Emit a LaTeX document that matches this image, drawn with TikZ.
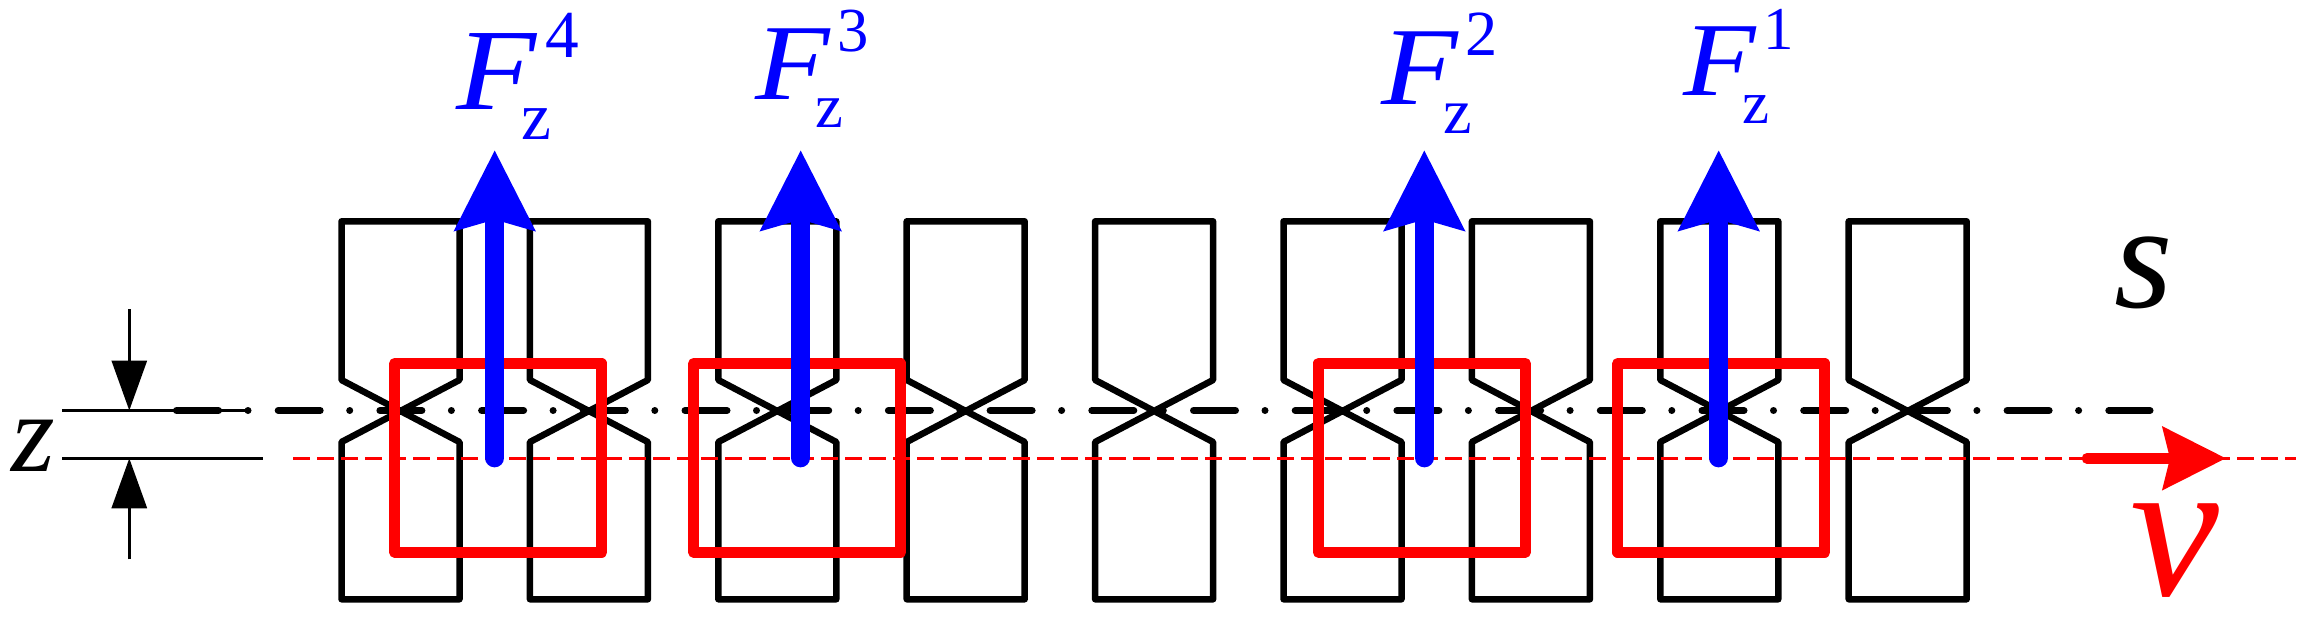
\documentclass[tikz,border=0pt]{standalone}
\usepackage{fontspec}
\setmainfont{Liberation Serif}
\usetikzlibrary{arrows.meta}
\definecolor{forceblue}{RGB}{0,0,255}
\definecolor{movered}{RGB}{255,0,0}
\tikzstyle{tooth} = [draw, line width=6.5pt, line join=round]
\tikzstyle{axis} = [draw, line width=7pt, line cap=round, dash pattern=on 42pt off 29.5pt on 0pt off 30.2pt]
\tikzstyle{dimline} = [draw, line width=3.2pt]
\tikzstyle{dimarrow} = [draw, line width=3.2pt, -{Triangle[length=50pt, width=35pt]}]
\tikzstyle{track} = [draw=movered, line width=3pt, dash pattern=on 17pt off 7pt]
\tikzstyle{coil} = [rectangle, draw=movered, line width=10.7pt, line join=round, inner sep=0pt, minimum width=207pt, minimum height=189pt]
\tikzstyle{force} = [draw=forceblue, line width=18.7pt, line cap=round, -{Stealth[length=79.5pt, width=78pt, inset=10pt]}]
\tikzstyle{speed} = [draw=movered, line width=10.7pt, line cap=round, -{Stealth[length=63pt, width=62pt, inset=7pt]}]
\tikzstyle{label} = [inner sep=0pt, anchor=base west]
\newcommand{\fzlabel}[2]{\fontsize{#1pt}{#1pt}\selectfont
  \rlap{\kern.56em\raisebox{-.26em}{\fontsize{.58em}{.58em}\selectfont z}}%
  \rlap{\kern.76em\raisebox{.44em}{\fontsize{.58em}{.58em}\selectfont #2}}%
  \scalebox{1.13}[1]{\textit{F}}}

\begin{document}
\begin{tikzpicture}[x=1pt, y=-1pt]
	\useasboundingbox (0,0) rectangle (2311,616);
	% teeth
	\foreach \i in {0,...,8}
		\draw [tooth, xshift={\i*188.4pt}] (341.5,380) -- (341.5,221.3) -- (459.5,221.3) -- (459.5,380) -- (341.5,442) -- (341.5,599.3) -- (459.5,599.3) -- (459.5,442) -- cycle;

	\coordinate (axisa) at (176.5,410.5);
	\coordinate (axisb) at (2150,410.5);
	\coordinate (dima) at (62,410.5);
	\coordinate (dimb) at (248,410.5);
	\coordinate (dimc) at (62,458.3);
	\coordinate (dimd) at (262.7,458.3);
	\coordinate (tracka) at (293,458.3);
	\coordinate (trackb) at (2296,458.3);
	\path [axis] (axisa) -- (axisb);
	\path [dimline] (dima) -- (dimb);
	\path [dimline] (dimc) -- (dimd);
	\path [track] (tracka) -- (trackb);

	% gap arrows
	\coordinate (gaptop) at (129.3,309.3);
	\coordinate (gapupper) at (129.3,410.5);
	\coordinate (gapbottom) at (129.3,559.3);
	\coordinate (gaplower) at (129.3,458.3);
	\path [dimarrow] (gaptop) -- (gapupper);
	\path [dimarrow] (gapbottom) -- (gaplower);

	% coils
	\node [coil] (coil4) at (498.2,457.8) {};
	\node [coil] (coil3) at (797.2,457.8) {};
	\node [coil] (coil2) at (1421.8,457.8) {};
	\node [coil] (coil1) at (1721.3,457.8) {};

	% forces
	\foreach \n/\x in {4/494.7, 3/800.7, 2/1424.3, 1/1718.7} {
		\coordinate (forcea\n) at (\x,458);
		\coordinate (forceb\n) at (\x,150);
		\path [force] (forcea\n) -- (forceb\n);
	}
	\coordinate (speeda) at (2087,458.3);
	\coordinate (speedb) at (2226,458.3);
	\path [speed] (speeda) -- (speedb);

	\node [label, text=forceblue] (f4) at (456.7,109) {\fzlabel{116}{4}};
	\node [label, text=forceblue] (f3) at (755,99.3) {\fzlabel{108}{3}};
	\node [label, text=forceblue] (f2) at (1381,104.3) {\fzlabel{111}{2}};
	\node [label, text=forceblue] (f1) at (1683.3,95.7) {\fzlabel{105}{1}};
	\node [label] (z) at (11,471.7) {\fontsize{112pt}{112pt}\selectfont\textit{z}};
	\node [label] (s) at (2114,307) {\fontsize{150pt}{150pt}\selectfont\textit{s}};
	\node [label, text=movered] (v) at (2130,595) {\fontsize{200pt}{200pt}\selectfont\textit{v}};
\end{tikzpicture}
\end{document}
